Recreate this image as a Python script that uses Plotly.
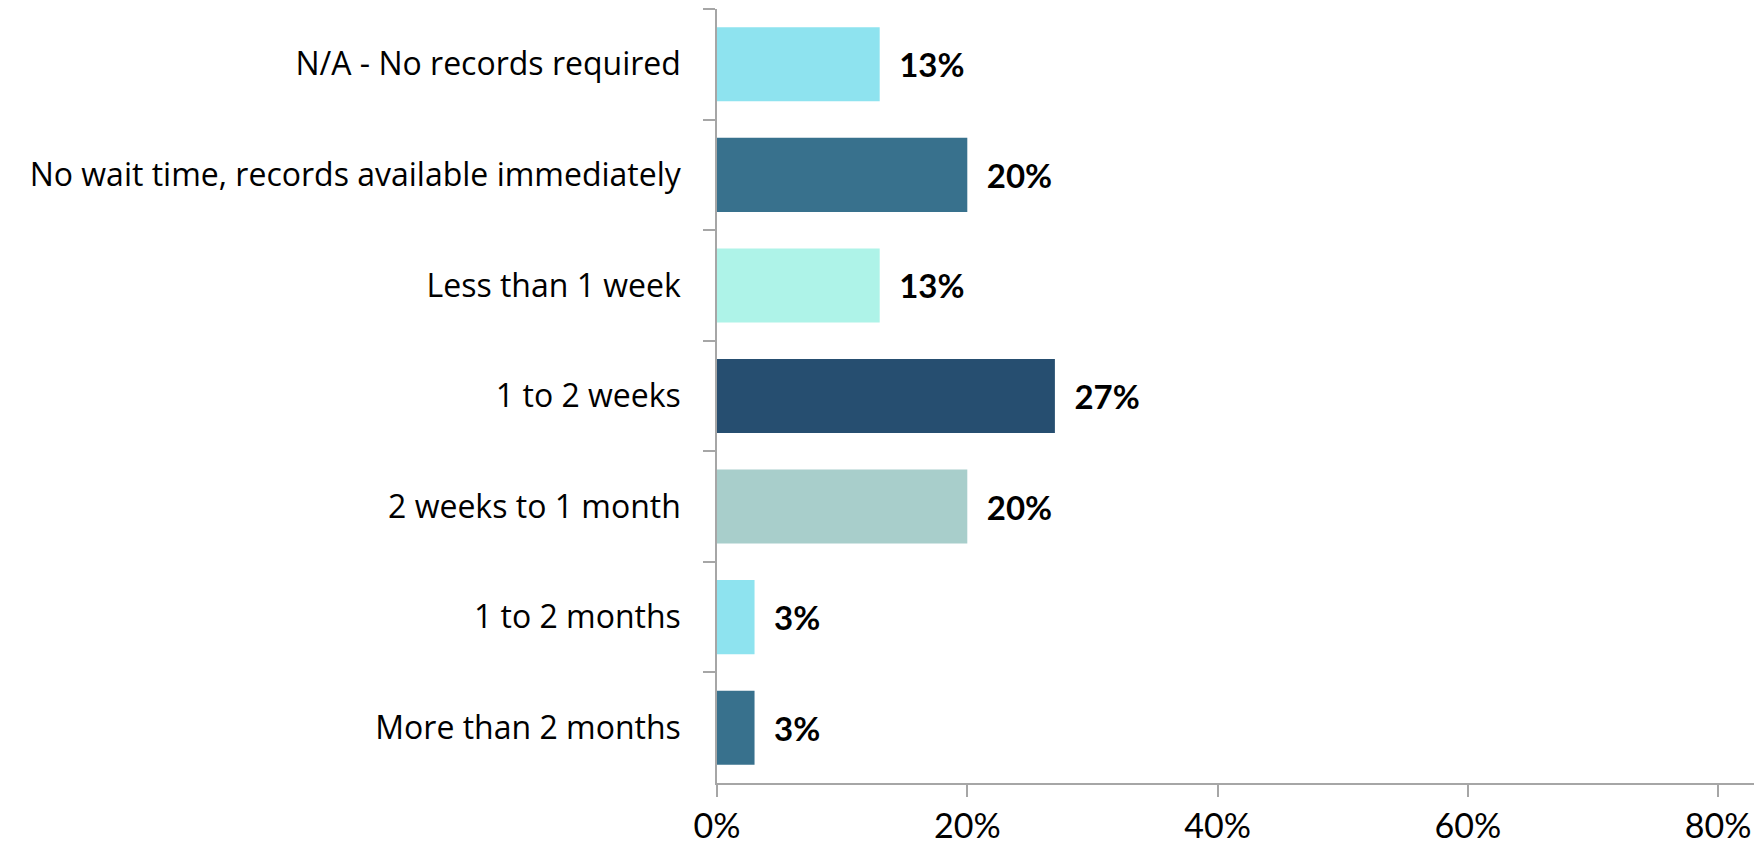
import plotly.graph_objects as go

categories = [
    "N/A - No records required",
    "No wait time, records available immediately",
    "Less than 1 week",
    "1 to 2 weeks",
    "2 weeks to 1 month",
    "1 to 2 months",
    "More than 2 months",
]
shares = [0.13, 0.20, 0.13, 0.27, 0.20, 0.03, 0.03]
bar_colors = ["#8EE3EF", "#38718D", "#AEF3E8", "#264E70", "#A8CECB", "#8EE3EF", "#38718D"]
x_ticks = [0, 0.2, 0.4, 0.6, 0.8]

axis_grey = "#A6A6A6"
num_font = "Lato, 'Open Sans', sans-serif"
label_font = "'Open Sans', Lato, sans-serif"

# page body has an 8px margin, so the figure is sized to fit inside it
fig = go.Figure(go.Bar(
    x=shares,
    y=categories,
    orientation="h",
    marker=dict(color=bar_colors, line=dict(width=0)),
    texttemplate="\u2002<b>%{x:.0%}</b>",
    textposition="outside",
    cliponaxis=False,
    textfont=dict(size=33, color="black", family=num_font),
))

fig.update_layout(
    width=1754, height=838,
    margin=dict(l=709, r=0, t=1, b=63),
    paper_bgcolor="white", plot_bgcolor="white",
    bargap=0.33,
    showlegend=False,
    font=dict(family=num_font, color="black"),
)
fig.update_yaxes(
    autorange="reversed",
    automargin=False,
    showline=True, linecolor=axis_grey, linewidth=1.5,
    ticks="outside", ticklen=12, tickcolor=axis_grey, tickwidth=1.5,
    tickson="boundaries",
    tickfont=dict(size=32, family=label_font),
    ticklabelstandoff=28,
    showgrid=False,
)
fig.update_xaxes(
    range=[0, 0.835],
    automargin=False,
    tickvals=x_ticks, tickformat=".0%",
    showline=True, linecolor=axis_grey, linewidth=1.5,
    ticks="outside", ticklen=12, tickcolor=axis_grey, tickwidth=1.5,
    tickfont=dict(size=34),
    ticklabelstandoff=0,
    showgrid=False, zeroline=False,
)

fig.write_html("out.html")
